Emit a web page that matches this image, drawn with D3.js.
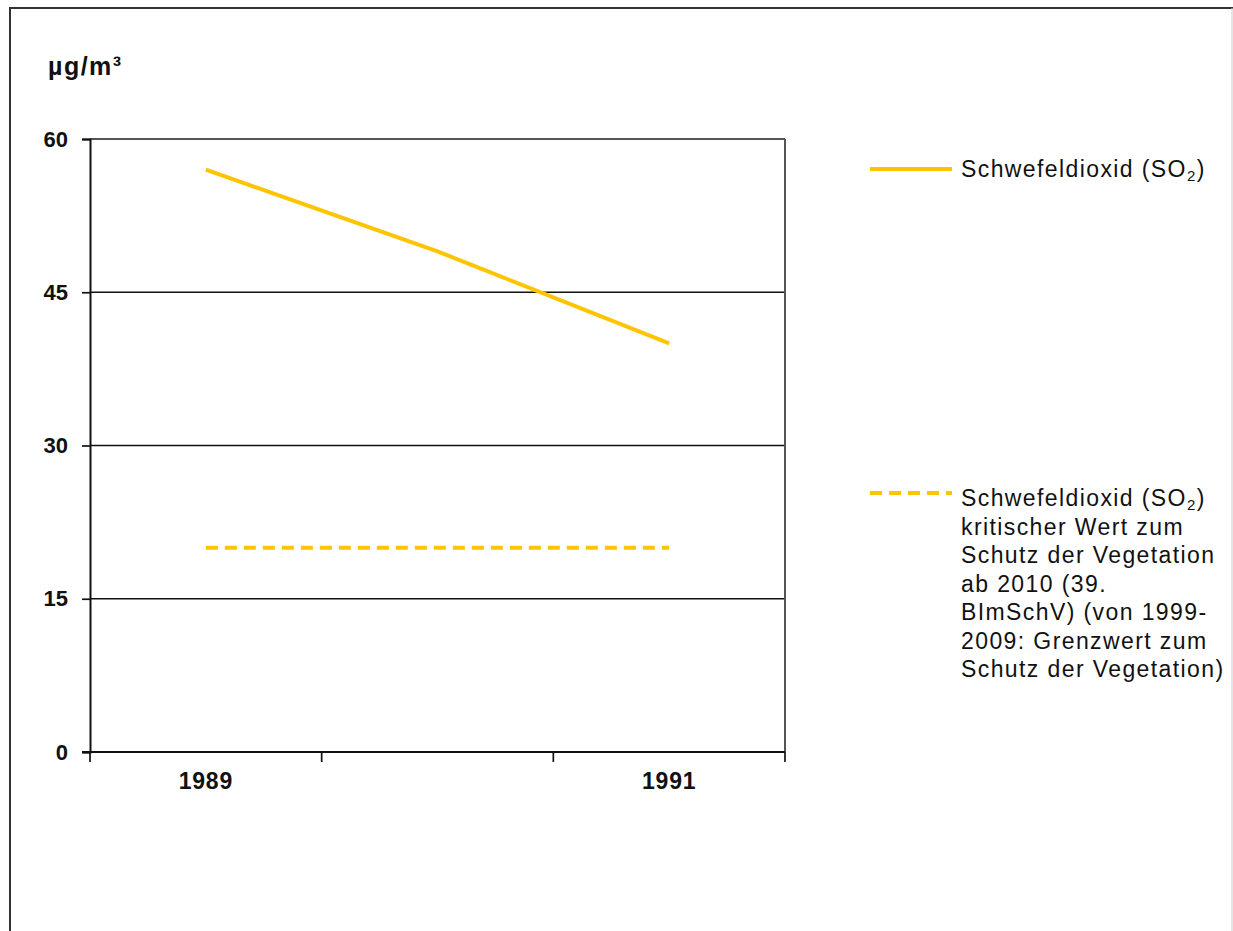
<!DOCTYPE html>
<html>
<head>
<meta charset="UTF-8">
<title>SO2</title>
<script src="https://cdn.jsdelivr.net/npm/d3@7"></script>
<style>
	body { margin: 0; background: #fff; }
	text { font-family: "Liberation Sans", Arial, sans-serif; fill: #111; }
</style>
</head>
<body>
	<div id="chart"></div>
	<script type="text/javascript">
		// data
		var years = ["1989", "1990", "1991"];
		var yearLabels = ["1989", "", "1991"];
		var so2 = [57, 49, 40];
		var limit = [20, 20, 20];
		var yTicks = [0, 15, 30, 45, 60];
		var unit = "µg/m³";
		var legendSolid = [["Schwefeldioxid (SO", "2", ")"]];
		var legendDashed = [
			["Schwefeldioxid (SO", "2", ")"],
			["kritischer Wert zum"],
			["Schutz der Vegetation"],
			["ab 2010 (39."],
			["BImSchV) (von 1999-"],
			["2009: Grenzwert zum"],
			["Schutz der Vegetation)"]
		];

		var gold = "#ffc400";
		var W = 1233, H = 931;
		var margin = { top: 139, left: 90 };
		var width = 695, height = 613;

		var svg = d3.select("#chart").append("svg").attr("width", W).attr("height", H);

		// outer frame
		svg.append("line").attr("x1", 9).attr("x2", 1233).attr("y1", 8).attr("y2", 8).attr("stroke", "#333").attr("stroke-width", 2);
		svg.append("line").attr("x1", 10).attr("x2", 10).attr("y1", 8).attr("y2", H).attr("stroke", "#333").attr("stroke-width", 2);
		svg.append("line").attr("x1", 1232).attr("x2", 1232).attr("y1", 8).attr("y2", H).attr("stroke", "#ccc").attr("stroke-width", 1);

		var g = svg.append("g").attr("transform", "translate(" + margin.left + "," + margin.top + ")");

		var x = d3.scaleBand().domain(years).range([0, width]);
		var y = d3.scaleLinear().domain([0, 60]).range([height, 0]);

		// gridlines
		g.selectAll(".grid").data(yTicks.filter(function(d) { return d > 0 && d < 60; })).enter().append("line")
			.attr("x1", 0).attr("x2", width).attr("y1", function(d) { return y(d); }).attr("y2", function(d) { return y(d); })
			.attr("stroke", "#111").attr("stroke-width", 1.7);

		// plot border top / right
		g.append("line").attr("x1", 0).attr("x2", width).attr("y1", y(60)).attr("y2", y(60)).attr("stroke", "#555").attr("stroke-width", 2);
		g.append("line").attr("x1", width).attr("x2", width).attr("y1", 0).attr("y2", height).attr("stroke", "#555").attr("stroke-width", 2);

		// y axis
		var yAxis = g.append("g").call(d3.axisLeft(y).tickValues(yTicks).tickSize(8).tickPadding(14));
		yAxis.select(".domain").attr("stroke", "#111").attr("stroke-width", 2);
		yAxis.selectAll(".tick line").attr("stroke", "#111").attr("stroke-width", 1.7);
		yAxis.selectAll(".tick text").attr("font-size", "22px").attr("font-weight", "bold")
			.attr("font-family", "Liberation Sans, Arial, sans-serif").attr("fill", "#111");

		// x axis with boundary ticks
		var xAxis = g.append("g").attr("transform", "translate(0," + height + ")");
		xAxis.append("line").attr("x1", -8).attr("x2", width).attr("stroke", "#111").attr("stroke-width", 2);
		var bounds = years.map(function(d) { return x(d); }).concat([width]);
		xAxis.selectAll(".xtick").data(bounds).enter().append("line")
			.attr("x1", function(d) { return d; }).attr("x2", function(d) { return d; })
			.attr("y1", 0).attr("y2", 10).attr("stroke", "#111").attr("stroke-width", 1.7);
		xAxis.selectAll(".xlabel").data(years).enter().append("text")
			.attr("x", function(d) { return x(d) + x.bandwidth() / 2; })
			.attr("y", 37).attr("text-anchor", "middle").attr("font-size", "23px").attr("font-weight", "bold")
			.attr("letter-spacing", "0.8px")
			.text(function(d, i) { return yearLabels[i]; });

		// unit label
		svg.append("text").attr("x", 48).attr("y", 75).attr("font-size", "25px").attr("font-weight", "bold")
			.attr("letter-spacing", "1.5px").text(unit);

		var line = d3.line()
			.x(function(d, i) { return x(years[i]) + x.bandwidth() / 2; })
			.y(function(d) { return y(d); });

		g.append("path").datum(so2).attr("fill", "none").attr("stroke", gold).attr("stroke-width", 4).attr("d", line);
		g.append("path").datum(limit).attr("fill", "none").attr("stroke", gold).attr("stroke-width", 4)
			.attr("stroke-dasharray", "12,7").attr("d", line);

		// legend
		var writeLines = function(sel, rows, x0, y0, dy) {
			var t = sel.append("text").attr("font-size", "23px").attr("letter-spacing", "1.4px").attr("fill", "#1a1a1a");
			rows.forEach(function(r, i) {
				t.append("tspan").attr("x", x0).attr("y", y0 + i * dy).text(r[0]);
				if (r.length > 1) {
					t.append("tspan").attr("font-size", "15px").attr("dy", 4).text(r[1]);
					t.append("tspan").attr("dy", -4).text(r[2]);
				}
			});
		};

		svg.append("line").attr("x1", 870).attr("x2", 952).attr("y1", 169).attr("y2", 169).attr("stroke", gold).attr("stroke-width", 4);
		writeLines(svg, legendSolid, 961, 177, 28);

		svg.append("line").attr("x1", 870).attr("x2", 952).attr("y1", 493).attr("y2", 493).attr("stroke", gold).attr("stroke-width", 4)
			.attr("stroke-dasharray", "12,7");
		writeLines(svg, legendDashed, 961, 506, 28.5);
	</script>
</body>
</html>
